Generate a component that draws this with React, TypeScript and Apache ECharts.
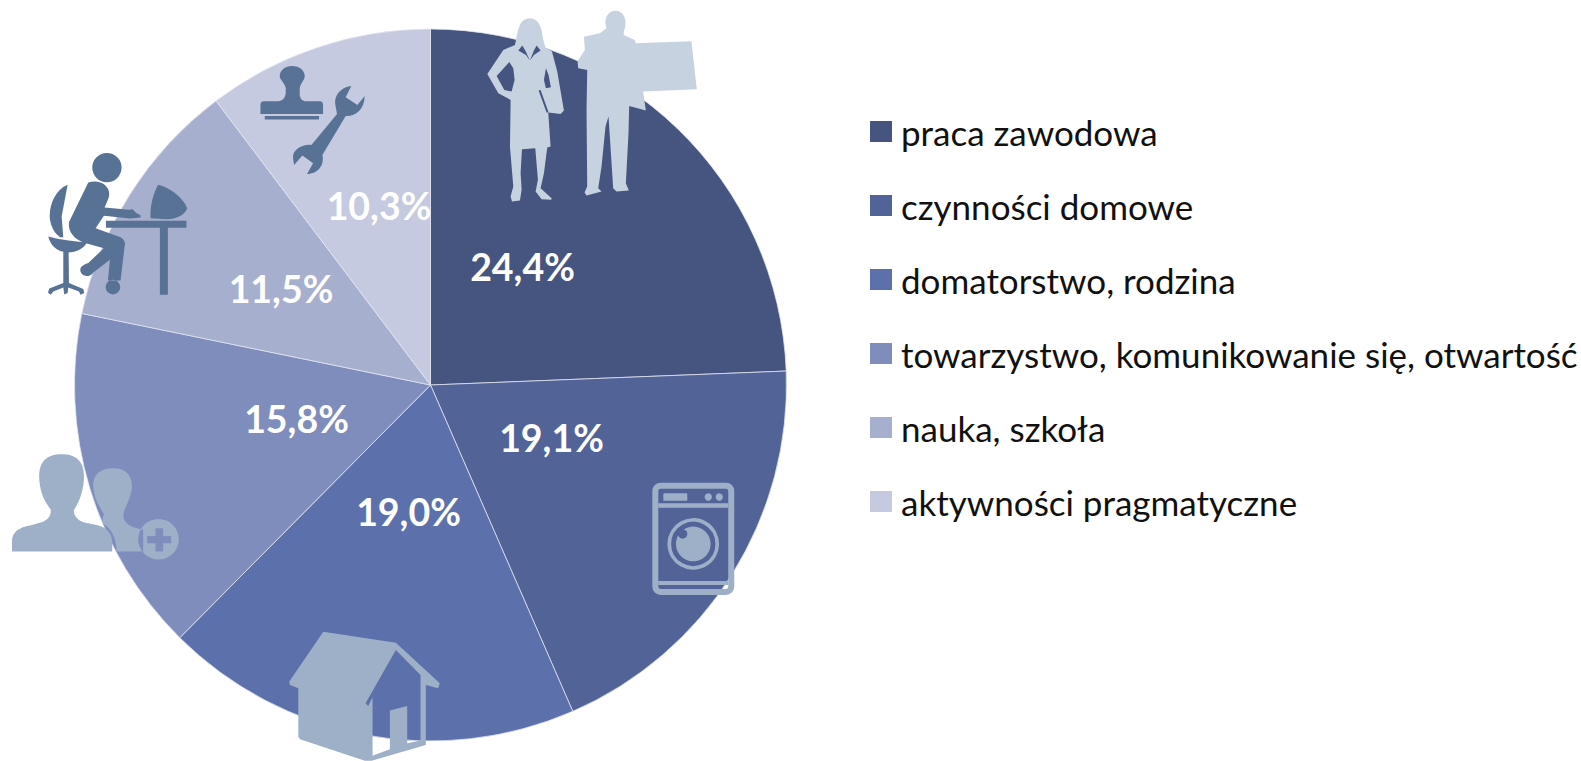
import React, { useEffect, useRef } from "react";
import * as echarts from "echarts";

const categories = [
  "praca zawodowa",
  "czynności domowe",
  "domatorstwo, rodzina",
  "towarzystwo, komunikowanie się, otwartość",
  "nauka, szkoła",
  "aktywności pragmatyczne",
];
const values = [24.4, 19.1, 19.0, 15.8, 11.5, 10.3];
const colors = ["#455580", "#526398", "#5C70AB", "#7F8DBD", "#A6AFCE", "#C5CAE0"];
const labelCenters = [
  [522.5, 266],
  [551.5, 437.5],
  [408.5, 511],
  [296.5, 418.5],
  [281, 288],
  [379, 205.5],
];

const PALE = "#C7D2E0";
const MID = "#9DB0C8";
const DARK = "#587295";

const shapes: Record<string, string> = {
  woman:
    "M180 55 C205 55 215 80 218 110 L226 142 L246 155 L262 215 L282 332 L272 342 L235 338 L242 440 L232 443 L222 520 L212 565 L245 595 L244 600 L215 598 L197 575 L204 540 L196 445 L156 448 L152 520 L155 570 L150 602 L126 605 L122 590 L130 560 L120 440 L122 300 L85 280 L52 222 L100 150 L135 135 L142 100 C148 70 160 55 180 55 Z",
  womanDetail:
    "M118 186 L80 228 L103 270 L125 275 L134 240 L130 205 Z M145 152 L157 137 L166 152 L180 182 L168 165 Z M212 152 L200 137 L192 152 L180 182 L192 165 Z M228 205 L222 240 L228 265 L243 262 L236 225 Z M206 272 L212 270 L236 338 L230 338 Z",
  man:
    "M437 32 C455 32 468 48 467 70 C466 88 460 95 462 105 L495 120 L498 130 L665 124 L681 268 L520 275 L528 332 L478 318 L476 400 L468 550 L477 572 L440 575 L430 565 L416 350 L407 380 L395 500 L385 565 L395 575 L350 587 L344 578 L352 560 L350 330 L352 210 L325 205 L323 185 L345 150 L342 110 L390 100 L410 85 C400 55 415 32 437 32 Z",
  worker:
    "M187 353 A44 44 0 1 0 275 353 A44 44 0 1 0 187 353 Z " +
    "M175 398 C215 385 250 415 234 450 L224 473 L298 480 L308 478 L320 490 L332 496 L332 503 L300 506 L222 498 L197 535 L272 562 C285 570 287 580 284 590 L272 692 L234 692 L240 630 L190 668 C175 690 145 675 152 655 C158 645 170 642 175 640 L222 595 L160 578 C125 565 112 535 118 515 Z " +
    "M227 712 A22 22 0 1 0 271 712 A22 22 0 1 0 227 712 Z " +
    "M113 405 C75 420 55 470 60 510 C65 540 80 555 90 562 L100 562 L95 500 Z " +
    "M55 560 C90 570 130 575 170 578 C165 595 135 610 110 608 C80 605 60 585 55 560 Z " +
    "M100 606 L116 606 L117 700 L160 718 L163 730 L152 735 L147 725 L115 713 L113 730 L103 734 L100 713 L70 725 L62 735 L54 728 L58 716 L100 700 Z " +
    "M385 405 C425 415 460 445 472 475 C465 495 440 508 410 508 L362 505 C360 470 370 430 385 405 Z " +
    "M228 513 L470 513 L470 534 L414 534 L414 735 L390 735 L390 534 L228 534 Z",
  stamp:
    "M787 48 C810 48 825 62 825 78 C825 90 812 100 810 115 L810 135 C812 148 818 153 830 154 L870 154 Q880 155 880 165 L880 192 L692 192 L692 165 Q692 155 702 154 L745 154 C758 153 766 145 768 130 L768 115 C766 100 750 90 750 78 C750 62 765 48 787 48 Z " +
    "M705 198 L868 198 L868 209 L705 209 Z",
  wrench:
    "M965 108 C930 112 912 140 917 165 L922 192 L845 285 C810 283 787 305 790 325 L793 345 L818 317 L850 340 L832 372 C865 372 885 345 878 315 L948 198 C975 200 1005 180 1005 138 L983 165 L948 142 Z",
  userLeft:
    "M185 43 C235 43 255 70 252 120 C248 165 235 190 222 210 C220 225 232 240 250 247 L290 255 C320 262 338 280 337 310 L337 335 L36 335 L36 305 C36 275 60 262 90 257 L125 247 C145 240 155 225 152 208 C135 185 122 165 118 120 C115 70 135 43 185 43 Z",
  userRight:
    "M340 85 C382 85 398 110 396 145 C392 180 372 205 370 228 C372 250 395 265 430 268 L430 335 L350 335 C350 295 335 265 310 252 C305 240 310 230 312 222 C292 190 280 165 280 135 C280 105 300 85 340 85 Z " +
    "M415 298 A61 61 0 1 0 537 298 A61 61 0 1 0 415 298 Z",
  plus:
    "M467 265 L490 265 L490 288 L514 288 L514 310 L490 310 L490 335 L467 335 L467 310 L442 310 L442 288 L467 288 Z",
  house:
    "M160 35 L378 68 L510 190 L505 205 L468 195 L468 375 L305 423 L285 423 L90 358 L85 350 L85 205 L60 195 L58 185 Z " +
    "M378 90 L287 250 L295 258 L308 232 L308 408 L360 388 L360 272 L412 258 L412 370 L452 362 L452 165 Z",
};
Object.keys(shapes).forEach((k) => {
  echarts.graphic.registerShape("icon_" + k, echarts.graphic.extendPath(shapes[k], {}));
});

const THIRD = 1 / 3;
function icon(name: string, x: number, y: number, fill: string) {
  return { type: "icon_" + name, x, y, scaleX: THIRD, scaleY: THIRD, z: 5, silent: true, style: { fill } };
}

function washer() {
  const z = 5;
  const base = { z, silent: true };
  return {
    type: "group",
    x: 640,
    y: 470,
    scaleX: THIRD,
    scaleY: THIRD,
    children: [
      { ...base, type: "rect", shape: { x: 46, y: 47, width: 228, height: 319, r: 16 }, style: { fill: "none", stroke: MID, lineWidth: 18 } },
      { ...base, type: "rect", shape: { x: 55, y: 100, width: 210, height: 13 }, style: { fill: MID } },
      { ...base, type: "rect", shape: { x: 55, y: 333, width: 210, height: 12 }, style: { fill: MID } },
      { ...base, type: "rect", shape: { x: 70, y: 70, width: 72, height: 22, r: 2 }, style: { fill: MID } },
      { ...base, type: "circle", shape: { cx: 205, cy: 81, r: 11 }, style: { fill: MID } },
      { ...base, type: "circle", shape: { cx: 238, cy: 81, r: 11 }, style: { fill: MID } },
      { ...base, type: "circle", shape: { cx: 160, cy: 222, r: 72 }, style: { fill: "none", stroke: MID, lineWidth: 11 } },
      { ...base, type: "circle", shape: { cx: 160, cy: 222, r: 52 }, style: { fill: MID } },
      { ...base, type: "circle", shape: { cx: 128, cy: 192, r: 14 }, style: { fill: colors[1] } },
    ],
  };
}

export default function App() {
  const ref = useRef<HTMLDivElement>(null);
  useEffect(() => {
    document.body.style.margin = "0";
    const chart = echarts.init(ref.current!, undefined, { renderer: "svg" });
    chart.setOption({
      animation: false,
      color: colors,
      legend: {
        orient: "vertical",
        left: 870,
        top: 114,
        icon: "rect",
        itemWidth: 22,
        itemHeight: 21,
        itemGap: 39,
        padding: 0,
        selectedMode: false,
        itemStyle: { borderWidth: 0 },
        textStyle: { fontFamily: "Lato", fontSize: 35, color: "#111", lineHeight: 21, padding: [0, 0, 0, 4] },
        data: categories,
      },
      series: [
        {
          type: "pie",
          center: [430.5, 385],
          radius: [0, 356],
          startAngle: 90,
          clockwise: true,
          avoidLabelOverlap: false,
          silent: true,
          itemStyle: { borderColor: "#E4E7F0", borderWidth: 0.75 },
          labelLine: { show: false },
          label: {
            show: true,
            position: "inside",
            color: "#fff",
            fontFamily: "Lato",
            fontWeight: "bold",
            fontSize: 37.5,
            formatter: (p: any) => p.value.toFixed(1).replace(".", ",") + "%",
          },
          labelLayout: (p: any) => ({
            x: labelCenters[p.dataIndex][0],
            y: labelCenters[p.dataIndex][1],
            align: "center",
            verticalAlign: "middle",
          }),
          data: categories.map((name, i) => ({ name, value: values[i] })),
        },
      ],
      graphic: {
        elements: [
          icon("woman", 470, 0, PALE),
          icon("womanDetail", 470, 0, colors[0]),
          icon("man", 470, 0, PALE),
          icon("worker", 30, 50, DARK),
          icon("stamp", 30, 50, DARK),
          icon("wrench", 30, 50, DARK),
          icon("userLeft", 0, 440, MID),
          icon("userRight", 0, 440, MID),
          icon("plus", 0, 440, colors[3]),
          icon("house", 270, 620, MID),
          washer(),
        ],
      },
    });
    return () => chart.dispose();
  }, []);
  return <div ref={ref} style={{ width: 1581, height: 761, overflow: "hidden" }} />;
}
